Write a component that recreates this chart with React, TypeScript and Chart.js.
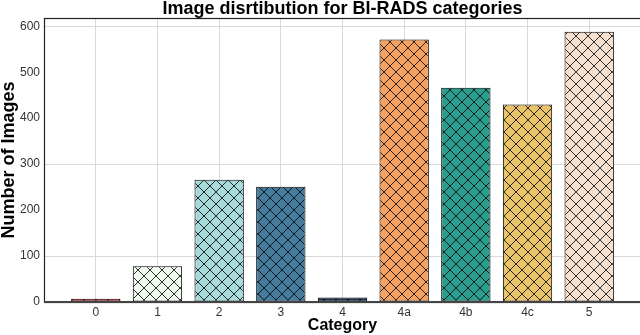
import React, { useEffect, useRef } from 'react';
import { Chart, registerables } from 'chart.js';

Chart.register(...registerables);

const categories = ['0', '1', '2', '3', '4', '4a', '4b', '4c', '5'];
const imageCounts = [7, 78, 266, 251, 10, 571, 466, 430, 588];
const barColors = ['#e63946', '#f1faee', '#a8dadc', '#457b9d', '#1d3557', '#f4a261', '#2a9d8f', '#e9c46a', '#f6e1d1'];
const yTickValues = [0, 100, 200, 300, 400, 500, 600];
const yGridValues = [100, 300, 600];

function makeHatch(color: string): CanvasPattern | string {
  const s = 12;
  const c = document.createElement('canvas');
  c.width = s;
  c.height = s;
  const ctx = c.getContext('2d');
  if (!ctx) return color;
  ctx.fillStyle = color;
  ctx.fillRect(0, 0, s, s);
  ctx.strokeStyle = 'rgba(0,0,0,0.8)';
  ctx.lineWidth = 1;
  ctx.beginPath();
  ctx.moveTo(-1, -1);
  ctx.lineTo(s + 1, s + 1);
  ctx.moveTo(-1, s + 1);
  ctx.lineTo(s + 1, -1);
  ctx.stroke();
  const p = ctx.createPattern(c, 'repeat');
  return p || color;
}

const framePlugin = {
  id: 'frame',
  afterDatasetsDraw(chart: any) {
    const { ctx, chartArea } = chart;
    ctx.save();
    ctx.strokeStyle = '#222';
    ctx.lineWidth = 1.2;
    ctx.strokeRect(chartArea.left + 0.5, chartArea.top + 0.5, chartArea.right - chartArea.left, chartArea.bottom - chartArea.top);
    ctx.beginPath();
    ctx.strokeStyle = '#444';
    ctx.lineWidth = 2;
    ctx.moveTo(chartArea.left, chartArea.bottom);
    ctx.lineTo(chartArea.right, chartArea.bottom);
    ctx.stroke();
    ctx.restore();
  },
};

export default function App() {
  const ref = useRef<HTMLCanvasElement | null>(null);

  useEffect(() => {
    if (!ref.current) return;
    const patterns = barColors.map((c) => makeHatch(c));
    const chart = new Chart(ref.current, {
      type: 'bar',
      data: {
        datasets: [
          {
            data: imageCounts.map((v, i) => ({ x: i, y: v })),
            backgroundColor: patterns as any,
            borderColor: '#000',
            borderWidth: 1,
            borderSkipped: false,
            categoryPercentage: 1,
            barPercentage: 0.8,
          },
        ],
      },
      options: {
        responsive: false,
        devicePixelRatio: 1,
        animation: false,
        layout: { padding: { left: 0, right: 19, top: 0, bottom: 0 } },
        plugins: {
          legend: { display: false },
          tooltip: { enabled: false },
          title: {
            display: true,
            text: 'Image disrtibution for BI-RADS categories',
            fullSize: false,
            color: '#000',
            font: { family: '"Liberation Sans", Arial, sans-serif', size: 18, weight: 'bold', lineHeight: 1 },
            padding: { top: 0, bottom: 0 },
          },
        },
        scales: {
          x: {
            type: 'linear',
            min: -0.84,
            max: 8.84,
            offset: false,
            afterBuildTicks: (scale: any) => {
              scale.ticks = categories.map((_, i) => ({ value: i }));
            },
            afterFit: (scale: any) => {
              scale.height = 33;
            },
            ticks: {
              callback: (v: any) => categories[v as number] ?? '',
              color: '#333',
              font: { family: '"Liberation Sans", Arial, sans-serif', size: 12 },
              padding: 3,
              maxRotation: 0,
              autoSkip: false,
            },
            grid: { color: '#d9d9d9', lineWidth: 1, drawTicks: false, offset: false },
            border: { display: false },
            title: {
              display: true,
              text: 'Category',
              color: '#000',
              font: { family: '"Liberation Sans", Arial, sans-serif', size: 16, weight: 'bold', lineHeight: 1.2 },
              padding: { top: 0, bottom: 0 },
            },
          },
          y: {
            type: 'linear',
            min: 0,
            max: 618,
            afterBuildTicks: (scale: any) => {
              scale.ticks = yTickValues.map((v) => ({ value: v }));
            },
            afterFit: (scale: any) => {
              scale.width = 44;
            },
            ticks: {
              color: '#333',
              font: { family: '"Liberation Sans", Arial, sans-serif', size: 12 },
              padding: 4,
            },
            grid: {
              color: (ctx: any) => {
                const v = ctx.tick ? ctx.tick.value : yTickValues[ctx.index];
                return yGridValues.includes(v) ? '#d9d9d9' : 'rgba(255,255,255,0)';
              },
              lineWidth: 1,
              drawTicks: false,
            },
            border: { display: false },
            title: {
              display: true,
              text: 'Number of Images',
              color: '#000',
              font: { family: '"Liberation Sans", Arial, sans-serif', size: 18, weight: 'bold', lineHeight: 1 },
              padding: { top: 0, bottom: 0 },
            },
          },
        },
      },
      plugins: [framePlugin],
    });
    return () => chart.destroy();
  }, []);

  return (
    <div style={{ position: 'absolute', left: 0, top: 0, width: 640, height: 335, overflow: 'hidden', background: '#fff' }}>
      <canvas ref={ref} width={660} height={335} style={{ display: 'block', width: 660, height: 335 }} />
    </div>
  );
}
